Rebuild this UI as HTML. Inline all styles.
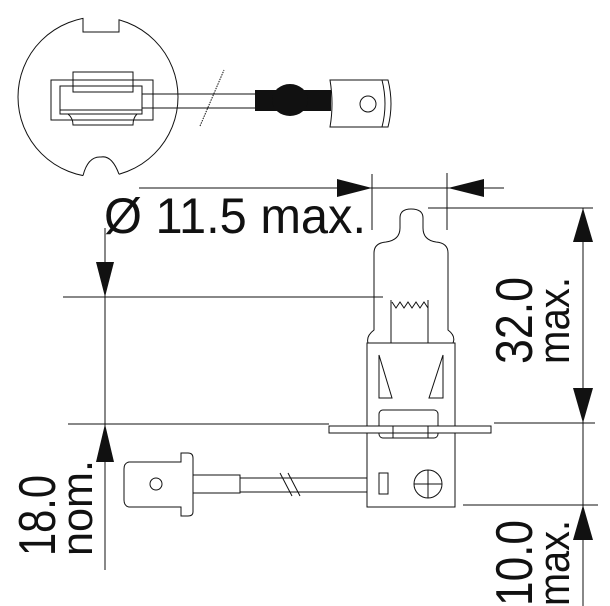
<!DOCTYPE html>
<html><head><style>
html,body{margin:0;padding:0;background:#fff;}
svg{display:block;}
text{font-family:"Liberation Sans",sans-serif;fill:#111;}
</style></head><body>
<svg width="610" height="606" viewBox="0 0 610 606" xmlns="http://www.w3.org/2000/svg">
<g fill="none" stroke="#111" stroke-width="1">
<circle cx="98" cy="97" r="80"/>
</g>
<rect x="83.5" y="14" width="35" height="17.5" fill="#fff"/>
<path d="M83,180 L83,175 Q88,156 101,157 Q112,155 119,174 L119,180 Z" fill="#fff"/>
<g fill="none" stroke="#111" stroke-width="1">
<path d="M83,18.4 L83,32 L119,32 L119,19.8"/>
<path d="M83,175.6 Q88,156 101,157 Q112,155 119,174.2"/>
<rect x="51" y="80" width="102" height="40"/>
<rect x="60" y="86" width="82" height="28"/>
<line x1="60" y1="110" x2="142" y2="110"/>
<rect x="73" y="72" width="60" height="20"/>
<path d="M68,114 Q73,118 73,125 L133,125 Q133,118 137,114"/>
<line x1="142" y1="94" x2="255" y2="94"/>
<line x1="142" y1="108" x2="255" y2="108"/>
<line x1="200" y1="126" x2="224" y2="70" stroke-dasharray="1.5,1"/>
<path d="M330,80 L388,80 Q394,104 388,127 L330,127 Q334,104 330,80 Z"/>
<path d="M382,80 Q388,104 382,127"/>
<circle cx="368" cy="104" r="8"/>
</g>
<rect x="255" y="90" width="76" height="21" fill="#111"/>
<ellipse cx="290" cy="100" rx="18" ry="16" fill="#111"/>

<g fill="none" stroke="#111" stroke-width="1">
<line x1="139" y1="188" x2="504" y2="188"/>
<line x1="372" y1="174" x2="372" y2="230"/>
<line x1="447" y1="173" x2="447" y2="230"/>
<line x1="428" y1="208" x2="593" y2="208"/>
<line x1="583" y1="208" x2="583" y2="606"/>
<line x1="494" y1="423" x2="595" y2="423"/>
<line x1="463" y1="505" x2="598" y2="505"/>
<line x1="105" y1="228" x2="105" y2="570"/>
<line x1="63" y1="297" x2="383" y2="297"/>
<line x1="68" y1="424" x2="329" y2="424"/>
<path d="M374,330 L374,253 Q374,243 386,242 Q400,240 400,228 L400,218 Q400,209 411,209 Q423,209 423,218 L423,228 Q423,240 436,242 Q448,243 448,253 L448,330 Q456,336 453,343 L368,343 Q366,336 374,330 Z"/>
<path d="M391,343 L391,300 M428,343 L428,300 M392,302 L396,308 L400,302 L404,308 L408,302 L412,308 L416,302 L420,308 L424,302 L428,308"/>
<rect x="367" y="343" width="88" height="164"/>
<path d="M379,355 L392,398 L379,398 Z"/>
<path d="M443,355 L429,398 L443,398 Z"/>
<rect x="379" y="410" width="59" height="28" rx="4" fill="#fff"/>
<rect x="329" y="426" width="162" height="7" fill="#fff"/>
<line x1="393" y1="426" x2="393" y2="438"/>
<line x1="428" y1="426" x2="428" y2="438"/>
<rect x="379" y="473" width="9" height="21"/>
<circle cx="428" cy="484" r="14"/>
<line x1="414" y1="484" x2="442" y2="484"/>
<line x1="428" y1="470" x2="428" y2="498"/>
<line x1="240" y1="478" x2="367" y2="478"/>
<line x1="240" y1="492" x2="367" y2="492"/>
<line x1="280" y1="473" x2="292" y2="496"/>
<line x1="288" y1="473" x2="300" y2="496"/>
<rect x="193" y="475" width="47" height="18"/>
<path d="M129,462 L181,462 L181,453 L188,453 Q193,453 193,458 L193,512 Q193,516 188,516 L181,516 L181,507 L129,507 Q124,506 124,500 L124,469 Q124,463 129,462 Z"/>
<circle cx="156" cy="484" r="6"/>
</g>
<g fill="#111">
<path d="M337,179 L372,188 L337,197 Z"/>
<path d="M484,179 L448,188 L484,197 Z"/>
<path d="M583,208 L573,242 L593,242 Z"/>
<path d="M583,423 L573,388 L593,388 Z"/>
<path d="M583,505 L573,540 L593,540 Z"/>
<path d="M105,297 L96,262 L114,262 Z"/>
<path d="M105,424 L96,462 L114,462 Z"/>
</g>
<text x="104" y="233" font-size="50" textLength="262" lengthAdjust="spacingAndGlyphs">Ø 11.5 max.</text>
<text transform="translate(532,364) rotate(-90)" font-size="52" textLength="87" lengthAdjust="spacingAndGlyphs">32.0</text>
<text transform="translate(569,364) rotate(-90)" font-size="44" textLength="87" lengthAdjust="spacingAndGlyphs">max.</text>
<text transform="translate(532,606) rotate(-90)" font-size="52" textLength="86" lengthAdjust="spacingAndGlyphs">10.0</text>
<text transform="translate(569,606) rotate(-90)" font-size="44" textLength="86" lengthAdjust="spacingAndGlyphs">max.</text>
<text transform="translate(55,556) rotate(-90)" font-size="52" textLength="81" lengthAdjust="spacingAndGlyphs">18.0</text>
<text transform="translate(92,556) rotate(-90)" font-size="44" textLength="96" lengthAdjust="spacingAndGlyphs">nom.</text>
</svg>
</body></html>
